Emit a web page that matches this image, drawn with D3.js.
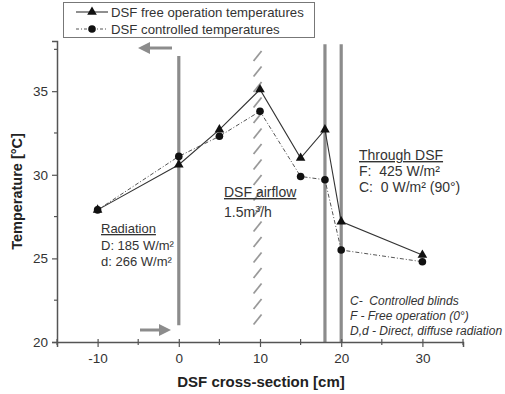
<!DOCTYPE html>
<html>
<head>
<meta charset="utf-8">
<script src="https://cdn.jsdelivr.net/npm/d3@7"></script>
<style>
  html, body { margin: 0; padding: 0; background: #fff; }
  svg { display: block; font-family: "Liberation Sans", Arial, sans-serif; }
  text { white-space: pre; }
</style>
</head>
<body>
<div id="chart"></div>
<script>
// data
const positions = [-10, 0, 5, 10, 15, 18, 20, 30];
const freeTemps = [27.9, 30.6, 32.7, 35.1, 31.0, 32.7, 27.2, 25.2];
const ctrlTemps = [27.9, 31.1, 32.3, 33.8, 29.9, 29.7, 25.5, 24.8];
const seriesNames = ['DSF free operation temperatures', 'DSF controlled temperatures'];
const xTicks = [-10, 0, 10, 20, 30];
const yTicks = [20, 25, 30, 35];
const wallPositions = [18, 20];

const W = 505, H = 394;
const svg = d3.select('#chart').append('svg')
    .attr('width', W).attr('height', H);

const x = d3.scaleLinear().domain([-15, 35]).range([57, 463]);
const y = d3.scaleLinear().domain([20, 38]).range([342, 41]);

const axisColor = '#555';
const wallColor = '#8c8c8c';

// walls and glass panes
svg.append('line')
    .attr('x1', x(0)).attr('x2', x(0))
    .attr('y1', y(37.1)).attr('y2', y(21))
    .attr('stroke', wallColor).attr('stroke-width', 3.2);

wallPositions.forEach(p => {
    svg.append('line')
        .attr('x1', x(p)).attr('x2', x(p))
        .attr('y1', y(37.8)).attr('y2', y(20))
        .attr('stroke', wallColor).attr('stroke-width', 3.2);
});

// hatched airflow line near x=10
const hatchYs = d3.range(y(37.1), y(21.2), 15.5);
svg.append('g').selectAll('line')
    .data(hatchYs)
    .enter().append('line')
    .attr('x1', x(9.7) - 4).attr('x2', x(9.7) + 4)
    .attr('y1', d => d + 5).attr('y2', d => d - 5)
    .attr('stroke', '#999').attr('stroke-width', 1.8);

// arrows
function arrow(x1, x2, yy) {
    const dir = Math.sign(x2 - x1);
    svg.append('line')
        .attr('x1', x1).attr('x2', x2 - dir * 10)
        .attr('y1', yy).attr('y2', yy)
        .attr('stroke', wallColor).attr('stroke-width', 3);
    svg.append('path')
        .attr('d', `M${x2},${yy}L${x2 - dir * 12},${yy - 6}L${x2 - dir * 12},${yy + 6}Z`)
        .attr('fill', wallColor);
}
arrow(172, 138, 48);
arrow(140, 171, 330);

// axes
const xAxis = d3.axisBottom(x).tickValues(xTicks).tickFormat(d => String(d))
    .tickSizeOuter(0).tickSize(5).tickPadding(6);
const yAxis = d3.axisLeft(y).tickValues(yTicks).tickFormat(d => String(d))
    .tickSizeOuter(0).tickSize(5).tickPadding(4);

const gx = svg.append('g').attr('transform', `translate(0,${y(20)})`).call(xAxis);
const gy = svg.append('g').attr('transform', `translate(${x(-15)},0)`).call(yAxis);
[gx, gy].forEach(g => {
    g.select('.domain').attr('stroke', axisColor).attr('stroke-width', 1.5);
    g.selectAll('.tick line').attr('stroke', axisColor).attr('stroke-width', 1.2);
    g.selectAll('text').attr('font-size', 13.5).attr('fill', '#333')
        .attr('font-family', '"Liberation Sans", Arial, sans-serif');
});
gx.selectAll('.tick').append('line').attr('y2', -3).attr('stroke', axisColor).attr('stroke-width', 1.2);

// minor ticks
svg.append('g').selectAll('line')
    .data([-15, -5, 5, 15, 25, 35])
    .enter().append('line')
    .attr('x1', d => x(d)).attr('x2', d => x(d))
    .attr('y1', y(20) - 3).attr('y2', y(20) + 3)
    .attr('stroke', axisColor).attr('stroke-width', 1.2);
svg.append('g').selectAll('line')
    .data([22.5, 27.5, 32.5, 37.5])
    .enter().append('line')
    .attr('x1', x(-15) - 3).attr('x2', x(-15))
    .attr('y1', d => y(d)).attr('y2', d => y(d))
    .attr('stroke', axisColor).attr('stroke-width', 1.2);

// axis titles
svg.append('text')
    .attr('x', 261).attr('y', 387)
    .attr('text-anchor', 'middle')
    .attr('font-size', 15).attr('font-weight', 'bold').attr('fill', '#222')
    .text('DSF cross-section [cm]');
svg.append('text')
    .attr('transform', `translate(22,${y(29)}) rotate(-90)`)
    .attr('text-anchor', 'middle')
    .attr('font-size', 14.5).attr('font-weight', 'bold').attr('fill', '#222')
    .text('Temperature [°C]');

// data lines
const freeData = positions.map((p, i) => ({ x: p, y: freeTemps[i] }));
const ctrlData = positions.map((p, i) => ({ x: p, y: ctrlTemps[i] }));
const line = d3.line().x(d => x(d.x)).y(d => y(d.y));

svg.append('path').datum(ctrlData)
    .attr('d', line).attr('fill', 'none')
    .attr('stroke', '#555').attr('stroke-width', 1)
    .attr('stroke-dasharray', '4,2,1,2');
svg.append('path').datum(freeData)
    .attr('d', line).attr('fill', 'none')
    .attr('stroke', '#333').attr('stroke-width', 1.1);

const tri = d3.symbol().type(d3.symbolTriangle).size(40);
svg.append('g').selectAll('circle')
    .data(ctrlData)
    .enter().append('circle')
    .attr('cx', d => x(d.x)).attr('cy', d => y(d.y))
    .attr('r', 3.8).attr('fill', '#111');
svg.append('g').selectAll('path')
    .data(freeData)
    .enter().append('path')
    .attr('d', tri)
    .attr('transform', d => `translate(${x(d.x)},${y(d.y)})`)
    .attr('fill', '#111');

// legend
const legend = svg.append('g');
legend.append('rect')
    .attr('x', 63.5).attr('y', 2.5).attr('width', 251).attr('height', 35)
    .attr('fill', '#fff').attr('stroke', '#777');
legend.append('line').attr('x1', 76).attr('x2', 108).attr('y1', 12).attr('y2', 12)
    .attr('stroke', '#333').attr('stroke-width', 1.1);
legend.append('path').attr('d', tri).attr('transform', 'translate(92,12)').attr('fill', '#111');
legend.append('line').attr('x1', 76).attr('x2', 108).attr('y1', 29).attr('y2', 29)
    .attr('stroke', '#555').attr('stroke-dasharray', '3,2,1,2');
legend.append('circle').attr('cx', 92).attr('cy', 29).attr('r', 3.8).attr('fill', '#111');
legend.selectAll('text.lab')
    .data(seriesNames)
    .enter().append('text')
    .attr('x', 111).attr('y', (d, i) => 17 + i * 17)
    .attr('font-size', 13.2).attr('fill', '#333')
    .text(d => d);

// annotations
function block(x0, y0, lines, opts = {}) {
    const step = opts.step || 16.5;
    lines.forEach((t, i) => {
        const el = svg.append('text')
            .attr('x', x0).attr('y', y0 + i * step)
            .attr('font-size', opts.size || 14).attr('fill', '#333')
            .attr('font-style', opts.italic ? 'italic' : 'normal')
            .attr('text-decoration', (opts.underlineFirst && i === 0) ? 'underline' : 'none');
        if (typeof t === 'string') el.text(t);
        else t(el);
    });
}
block(101, 233, ['Radiation', 'D: 185 W/m²', 'd: 266 W/m²'], { underlineFirst: true, size: 13 });
block(224, 197, ['DSF airflow', el => {
    el.append('tspan').text('1.5m');
    el.append('tspan').attr('font-size', 9).attr('dy', -5).text('3');
    el.append('tspan').attr('dy', 5).text('/h');
}], { underlineFirst: true, step: 20 });
block(359, 160, ['Through DSF', 'F:  425 W/m²', 'C:  0 W/m² (90°)'], { underlineFirst: true, step: 16 });
block(350, 305, ['C-  Controlled blinds', 'F - Free operation (0°)', 'D,d - Direct, diffuse radiation'],
    { italic: true, size: 12, step: 15 });
</script>
</body>
</html>
